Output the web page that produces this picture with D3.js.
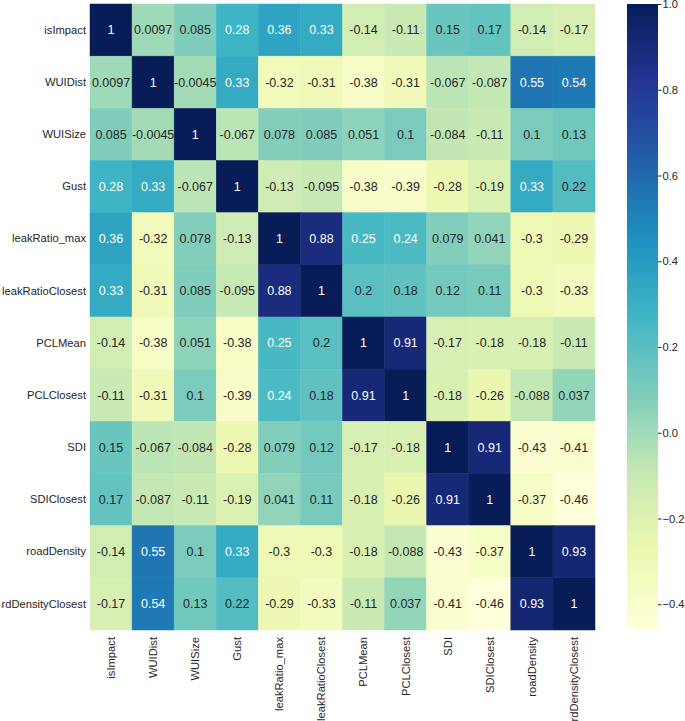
<!DOCTYPE html>
<html>
<head>
<meta charset="utf-8">
<script src="https://cdn.jsdelivr.net/npm/d3@7"></script>
<style>
  body { margin: 0; background: #fff; }
  svg text { font-family: "Liberation Sans", Arial, sans-serif; }
</style>
</head>
<body>
<svg id="chart" width="685" height="721"></svg>
<script>
// variable names (rows and columns are the same)
var labels = ["isImpact", "WUIDist", "WUISize", "Gust", "leakRatio_max", "leakRatioClosest",
              "PCLMean", "PCLClosest", "SDI", "SDIClosest", "roadDensity", "rdDensityClosest"];

// correlation matrix, one array per row
var isImpact         = [1, 0.0097, 0.085, 0.28, 0.36, 0.33, -0.14, -0.11, 0.15, 0.17, -0.14, -0.17];
var WUIDist          = [0.0097, 1, -0.0045, 0.33, -0.32, -0.31, -0.38, -0.31, -0.067, -0.087, 0.55, 0.54];
var WUISize          = [0.085, -0.0045, 1, -0.067, 0.078, 0.085, 0.051, 0.1, -0.084, -0.11, 0.1, 0.13];
var Gust             = [0.28, 0.33, -0.067, 1, -0.13, -0.095, -0.38, -0.39, -0.28, -0.19, 0.33, 0.22];
var leakRatio_max    = [0.36, -0.32, 0.078, -0.13, 1, 0.88, 0.25, 0.24, 0.079, 0.041, -0.3, -0.29];
var leakRatioClosest = [0.33, -0.31, 0.085, -0.095, 0.88, 1, 0.2, 0.18, 0.12, 0.11, -0.3, -0.33];
var PCLMean          = [-0.14, -0.38, 0.051, -0.38, 0.25, 0.2, 1, 0.91, -0.17, -0.18, -0.18, -0.11];
var PCLClosest       = [-0.11, -0.31, 0.1, -0.39, 0.24, 0.18, 0.91, 1, -0.18, -0.26, -0.088, 0.037];
var SDI              = [0.15, -0.067, -0.084, -0.28, 0.079, 0.12, -0.17, -0.18, 1, 0.91, -0.43, -0.41];
var SDIClosest       = [0.17, -0.087, -0.11, -0.19, 0.041, 0.11, -0.18, -0.26, 0.91, 1, -0.37, -0.46];
var roadDensity      = [-0.14, 0.55, 0.1, 0.33, -0.3, -0.3, -0.18, -0.088, -0.43, -0.37, 1, 0.93];
var rdDensityClosest = [-0.17, 0.54, 0.13, 0.22, -0.29, -0.33, -0.11, 0.037, -0.41, -0.46, 0.93, 1];

var rows = [isImpact, WUIDist, WUISize, Gust, leakRatio_max, leakRatioClosest,
            PCLMean, PCLClosest, SDI, SDIClosest, roadDensity, rdDensityClosest];

var cbTicks = [-0.4, -0.2, 0.0, 0.2, 0.4, 0.6, 0.8, 1.0];

var margin = {top: 4, left: 90},
    width = 505,
    height = 626;

var svg = d3.select("#chart");
var g = svg.append("g")
    .attr("transform", "translate(" + margin.left + "," + margin.top + ")");

// flatten into cells
var cells = [];
rows.forEach(function(r, i) {
  r.forEach(function(v, j) {
    cells.push({row: labels[i], col: labels[j], value: v});
  });
});

var x = d3.scaleBand().domain(labels).range([0, width]);
var y = d3.scaleBand().domain(labels).range([0, height]);

var vmin = d3.min(cells, function(d) { return d.value; }),
    vmax = d3.max(cells, function(d) { return d.value; });

// YlGnBu like matplotlib: linear between the 9 brewer colours
var brewer = d3.schemeYlGnBu[9];
var colour = d3.scaleLinear()
    .domain(brewer.map(function(c, i) { return vmin + (vmax - vmin) * i / (brewer.length - 1); }))
    .range(brewer)
    .interpolate(d3.interpolateRgb);

function luminance(c) {
  var rgb = d3.rgb(c);
  var lin = [rgb.r, rgb.g, rgb.b].map(function(v) {
    v = v / 255;
    return v <= 0.03928 ? v / 12.92 : Math.pow((v + 0.055) / 1.055, 2.4);
  });
  return 0.2126 * lin[0] + 0.7152 * lin[1] + 0.0722 * lin[2];
}

g.selectAll("rect.cell")
    .data(cells)
    .enter()
    .append("rect")
    .attr("class", "cell")
    .attr("x", function(d) { return x(d.col); })
    .attr("y", function(d) { return y(d.row); })
    .attr("width", x.bandwidth())
    .attr("height", y.bandwidth())
    .attr("fill", function(d) { return colour(d.value); })
    .attr("stroke", function(d) { return colour(d.value); })
    .attr("stroke-width", 0.5);

g.selectAll("text.annot")
    .data(cells)
    .enter()
    .append("text")
    .attr("class", "annot")
    .attr("x", function(d) { return x(d.col) + x.bandwidth() / 2; })
    .attr("y", function(d) { return y(d.row) + y.bandwidth() / 2; })
    .attr("dy", "0.35em")
    .attr("text-anchor", "middle")
    .style("font-size", "12.5px")
    .attr("fill", function(d) { return luminance(colour(d.value)) > 0.408 ? "#262626" : "#ffffff"; })
    .text(function(d) { return String(d.value); });

// row labels
g.append("g")
    .call(d3.axisLeft(y).tickSize(0).tickPadding(4))
    .call(function(a) { a.select(".domain").remove(); })
    .selectAll("text")
    .style("font-size", "11.2px")
    .attr("fill", "#262626");

// column labels, rotated
g.append("g")
    .attr("transform", "translate(0," + height + ")")
    .call(d3.axisBottom(x).tickSize(0))
    .call(function(a) { a.select(".domain").remove(); })
    .selectAll("text")
    .style("font-size", "11.2px")
    .attr("fill", "#262626")
    .attr("text-anchor", "end")
    .attr("transform", "rotate(-90)")
    .attr("x", -7)
    .attr("y", 0)
    .attr("dy", "0.35em");

// colour bar
var cb = {x: 627, w: 31};
var cy = d3.scaleLinear().domain([vmin, vmax]).range([margin.top + height, margin.top]);

var grad = svg.append("defs").append("linearGradient")
    .attr("id", "cbgrad")
    .attr("x1", 0).attr("y1", 1).attr("x2", 0).attr("y2", 0);
d3.range(0, 1.0001, 0.02).forEach(function(t) {
  grad.append("stop")
      .attr("offset", t)
      .attr("stop-color", colour(vmin + t * (vmax - vmin)));
});

svg.append("rect")
    .attr("x", cb.x)
    .attr("y", margin.top)
    .attr("width", cb.w)
    .attr("height", height)
    .attr("fill", "url(#cbgrad)");

var cbAxis = svg.append("g")
    .attr("transform", "translate(" + (cb.x + cb.w) + ",0)")
    .call(d3.axisRight(cy).tickValues(cbTicks).tickFormat(d3.format(".1f")).tickSize(3.5).tickPadding(1));
cbAxis.select(".domain").remove();
cbAxis.selectAll("line").attr("stroke", "#262626");
cbAxis.selectAll("text")
    .style("font-size", "11.2px")
    .attr("fill", "#262626");
</script>
</body>
</html>
